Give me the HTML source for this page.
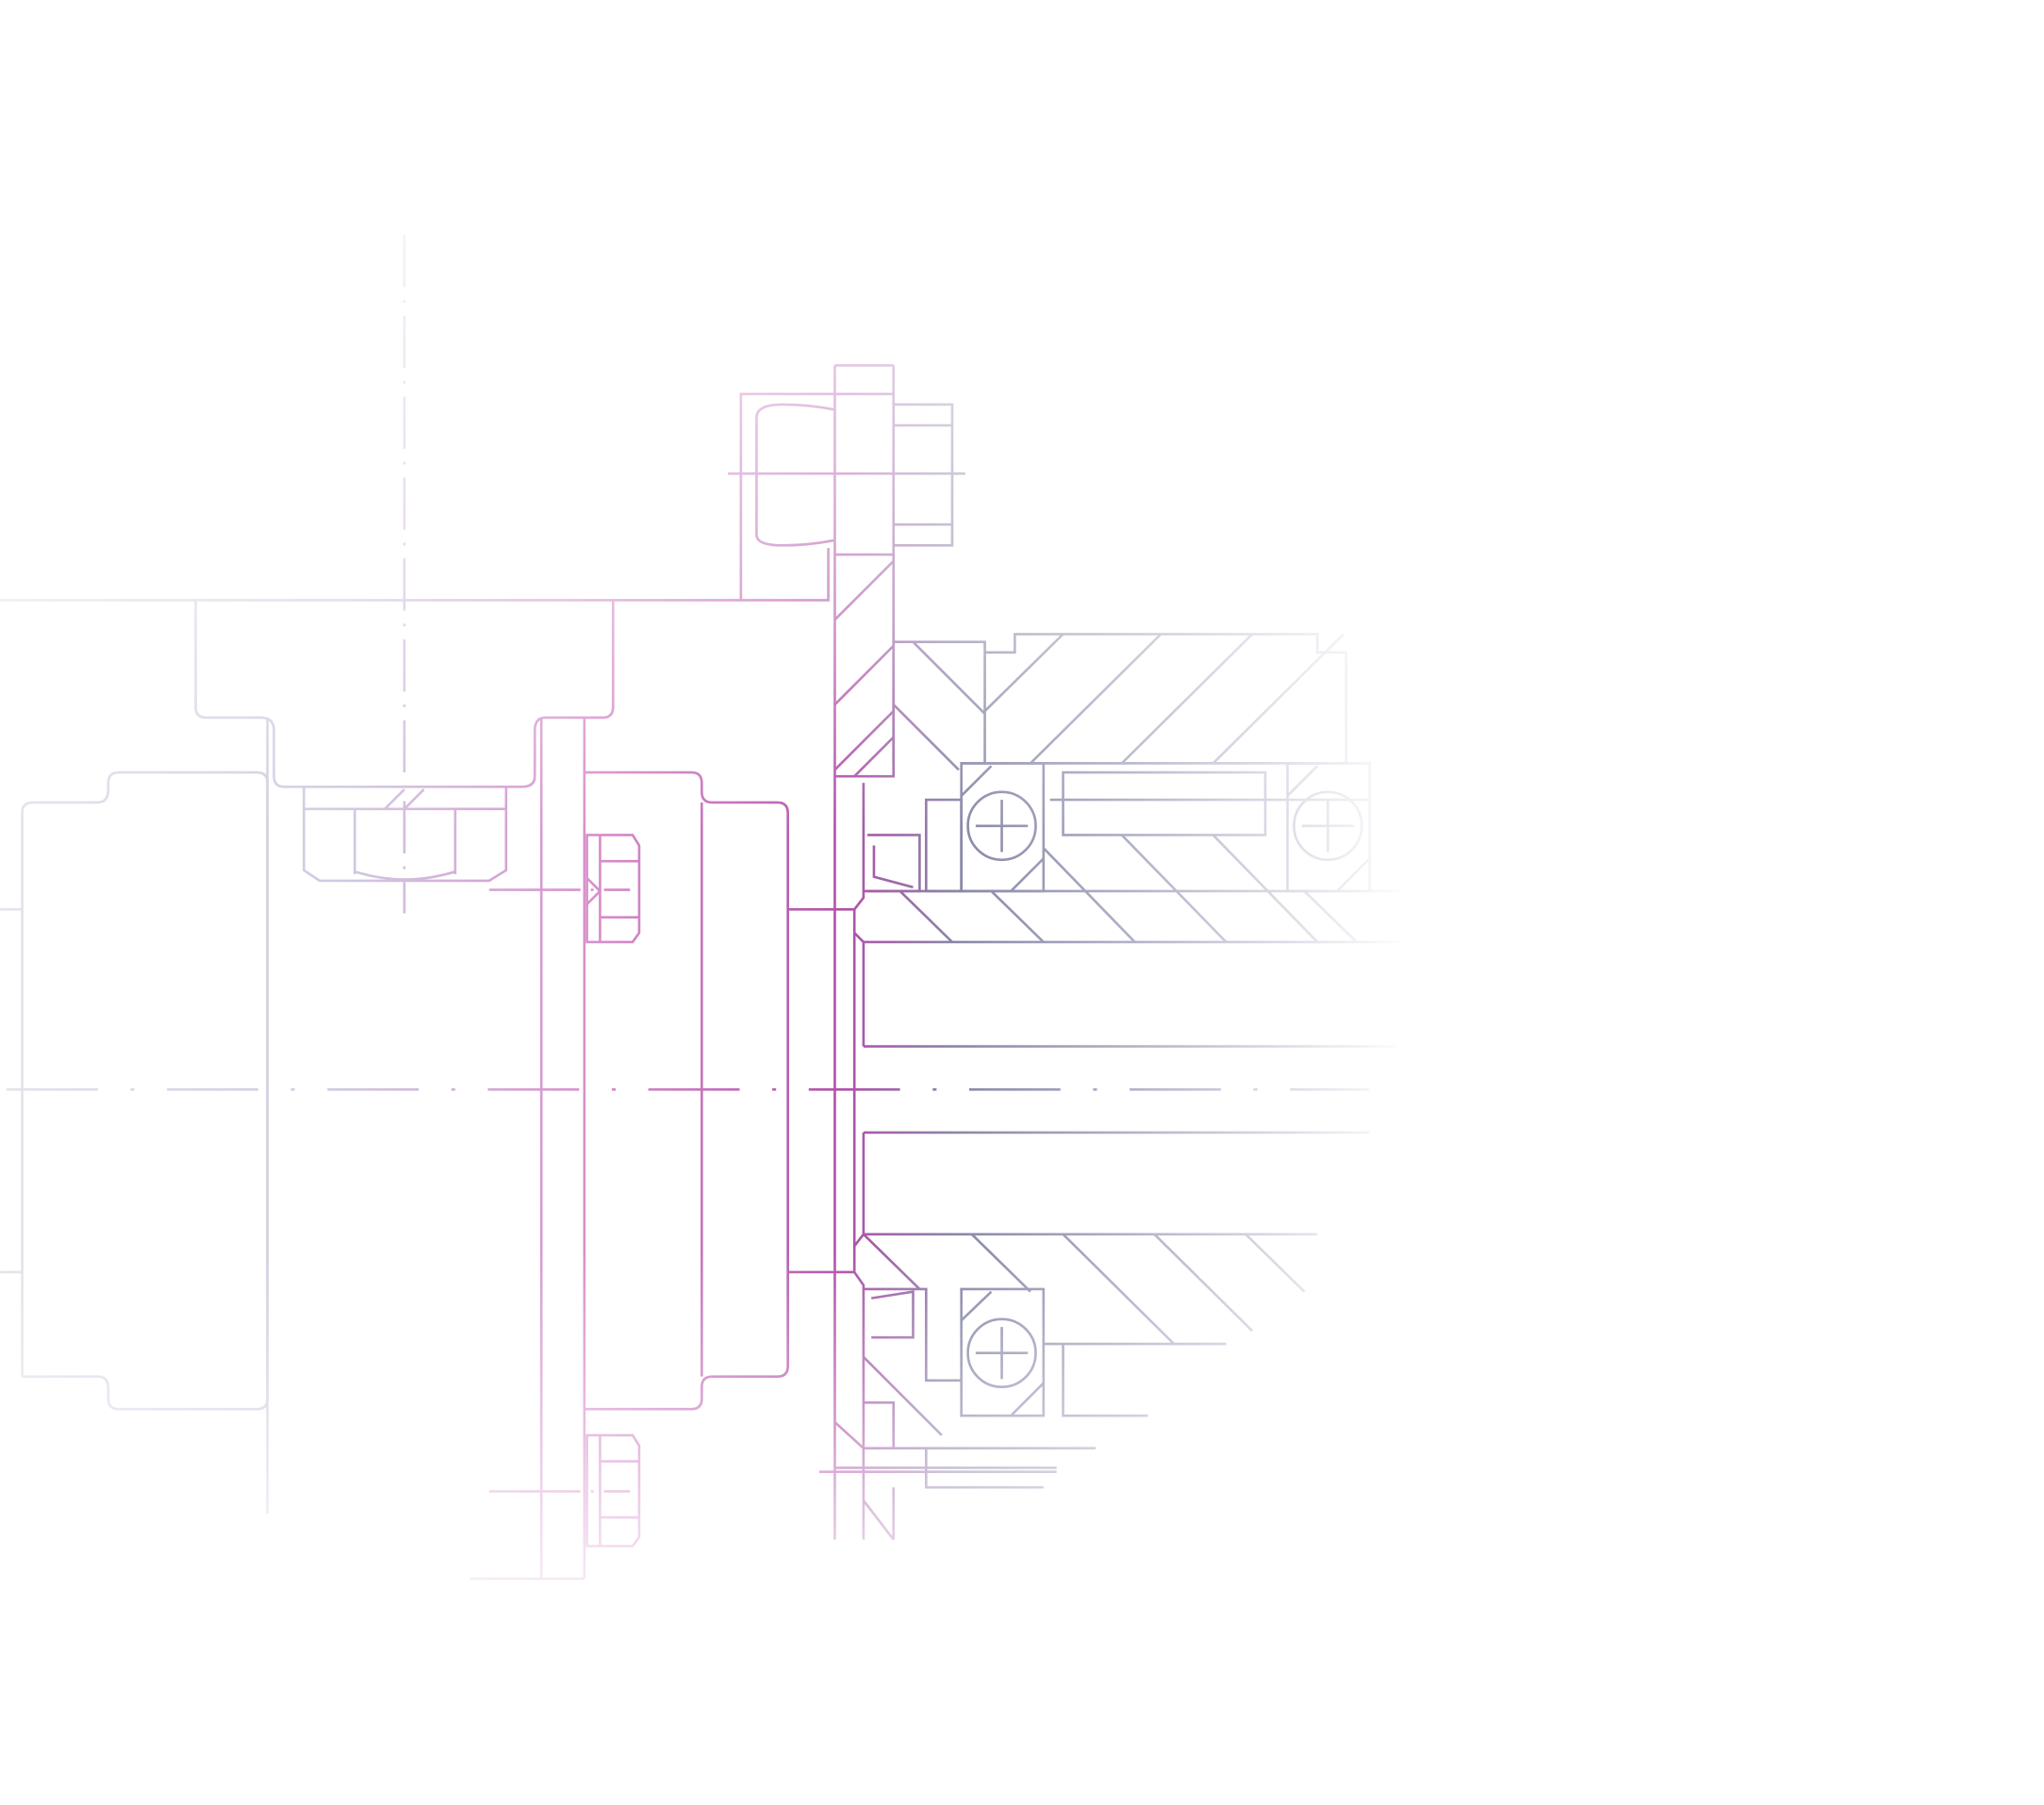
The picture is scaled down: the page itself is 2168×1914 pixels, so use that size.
<!DOCTYPE html>
<html><head><meta charset="utf-8"><style>html,body{margin:0;padding:0;background:#fff}svg{display:block}</style></head>
<body>
<svg width="2168" height="1914" viewBox="0 0 1567 1383.4" xmlns="http://www.w3.org/2000/svg">
<defs>
<linearGradient id="g" gradientUnits="userSpaceOnUse" x1="0" y1="0" x2="1080" y2="0">
<stop offset="0" stop-color="#e4e4ec"/>
<stop offset="0.25" stop-color="#d0c8e0"/>
<stop offset="0.42" stop-color="#d890cc"/>
<stop offset="0.6" stop-color="#b050a8"/>
<stop offset="0.68" stop-color="#8888a8"/>
<stop offset="0.8" stop-color="#b0b0c8"/>
<stop offset="1" stop-color="#ffffff"/>
</linearGradient>
<linearGradient id="v" gradientUnits="userSpaceOnUse" x1="0" y1="150" x2="0" y2="1230">
<stop offset="0" stop-color="#fff" stop-opacity="0.15"/>
<stop offset="0.3" stop-color="#fff" stop-opacity="0.6"/>
<stop offset="0.45" stop-color="#fff" stop-opacity="1"/>
<stop offset="0.75" stop-color="#fff" stop-opacity="1"/>
<stop offset="1" stop-color="#fff" stop-opacity="0.15"/>
</linearGradient>
<mask id="m"><rect x="0" y="0" width="1567" height="1384" fill="url(#v)"/></mask>
</defs>
<g mask="url(#m)" fill="none" stroke="url(#g)" stroke-width="1.9">
<path d="M0 460H635V420"/>
<path d="M150 460V542Q150 550 158 550H200Q210 550 210 560V595Q210 603 218 603H400Q410 603 410 595V560Q410 550 418 550H462Q470 550 470 542V460"/>
<path d="M310 180V700" stroke-dasharray="40 10 2 10"/>
<path d="M233 603V667L245 675H375L388 667V603M233 620H388M272 620V670M349 620V670M295 620L310 605M310 620L325 605M272 668Q310 680 349 668"/>
<path d="M0 697H17M0 975H17"/>
<path d="M17 1055V623Q17 615 25 615H75Q83 615 83 605V600Q83 592 91 592H197Q205 592 205 600V1072Q205 1080 197 1080H91Q83 1080 83 1072V1064Q83 1055 75 1055H17"/>
<path d="M205 550V1160"/>
<path d="M415 550V1210M448 550V1210M448 1210H360"/>
<path d="M448 592H530Q538 592 538 600V607Q538 615 546 615H596Q604 615 604 623V1047Q604 1055 596 1055H546Q538 1055 538 1063V1072Q538 1080 530 1080H448"/>
<path d="M538 615V1055"/>
<path d="M604 697H655M604 975H655"/>
<path d="M450 640H485L490 648V715L485 722H450V640ZM460 640V722M460 660H490M460 703H490M450 673L460 683L450 693"/>
<path d="M375 682H510" stroke-dasharray="70 8 2 8 20"/>
<path d="M450 1100H485L490 1108V1178L485 1185H450V1100ZM460 1100V1185M460 1120H490M460 1163H490"/>
<path d="M375 1143H510" stroke-dasharray="70 8 2 8 20"/>
<path d="M5 835H1050" stroke-dasharray="70 25 3 25"/>
<path d="M655 697V975M655 697L662 688V600M655 975L662 985V1180"/>
<path d="M662 722H1075M662 802H1070M662 868H1050M662 946H1010M662 722V802M662 868V946"/>
<path d="M655 715L662 722M655 955L662 946"/>
<path d="M640 280V1180M685 280V595H662M640 595H685M640 425H685M640 302H685M640 280H685"/>
<path d="M640 475L685 430M640 540L685 495M640 590L685 545M655 595L685 565"/>
<path d="M568 460V302H640M568 302H640M580 320Q580 310 600 310Q620 310 640 314M580 320V410Q580 418 600 418Q620 418 640 414M685 310H730V418H685M685 326H730M685 402H730M558 363H740" />
<path d="M685 492H755V585M755 500H778V486H1010V500H1032V585"/>
<path d="M700 492L755 547M685 540L735 590M685 500V585"/>
<path d="M755 545L815 486M790 585L890 486M860 585L960 486M930 585L1030 486"/>
<path d="M738 585H1050M815 592H970V640H815V592ZM805 613H1050"/>
<path d="M737 585H800V683H737ZM987 585H1050V683H987Z"/>
<circle cx="768" cy="633" r="26"/>
<circle cx="1018" cy="633" r="26"/>
<path d="M768 613V653M748 633H788M1018 613V653M998 633H1038"/>
<path d="M737 610L760 587M775 683L800 658M987 610L1010 587M1025 683L1050 658"/>
<path d="M710 613H737V683H710ZM665 640H705V683H665M670 648V672L700 680"/>
<path d="M690 683L730 722M760 683L800 722M800 650L870 722M860 640L940 722M930 640L1010 722M1000 683L1040 722M662 683H1075"/>
<path d="M662 946L705 988M745 946L790 990M815 946L900 1030M885 946L960 1020M955 946L1000 990"/>
<path d="M662 988H710V1058H737V988H800V1085H737V1058M800 1030H940M815 1030V1085H880"/>
<circle cx="768" cy="1037" r="26"/>
<path d="M768 1017V1057M748 1037H788M737 1012L760 990M775 1085L800 1060"/>
<path d="M668 995L700 990V1025H668M662 1040L722 1100M640 1090L662 1110H840M662 1075H685V1110M640 1125H810M710 1110V1140H800M628 1128H810M662 1150L685 1180M685 1140V1180"/>
</g>
</svg>
</body></html>
